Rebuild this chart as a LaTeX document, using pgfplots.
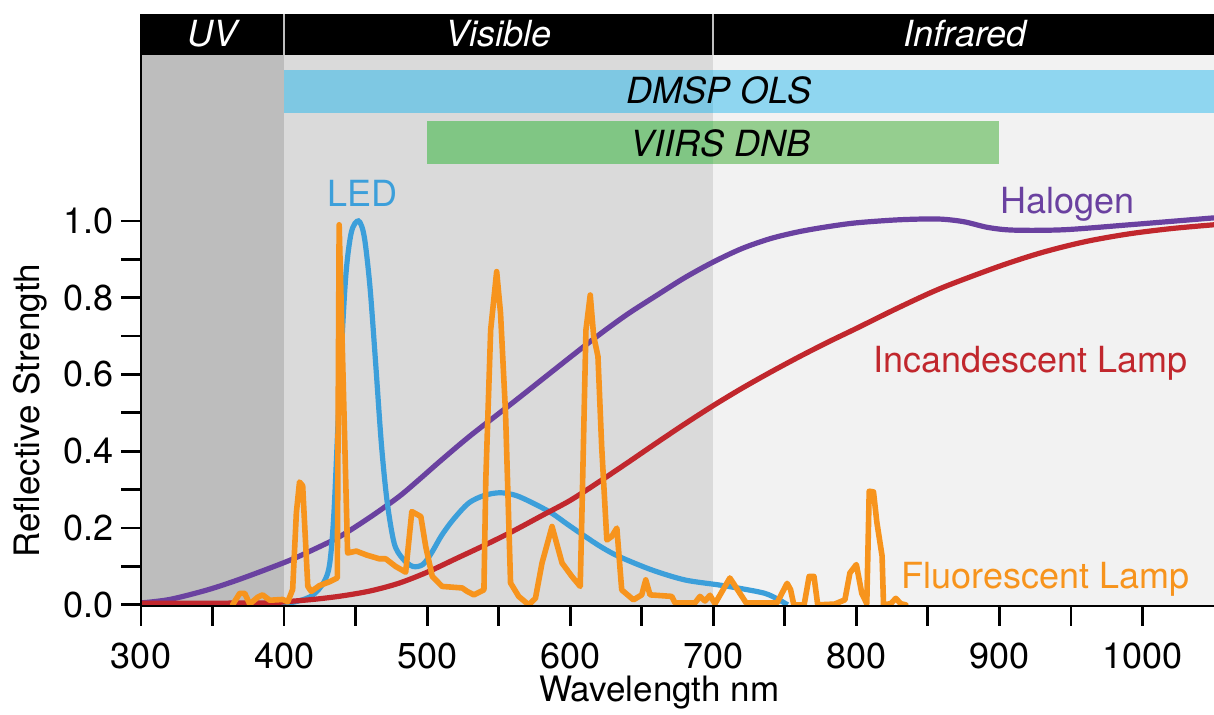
\documentclass[border=0pt]{standalone}
\usepackage{pgfplots}
\pgfplotsset{compat=1.18}
\usepackage{fontspec}
\setmainfont{TeX Gyre Heros}
\definecolor{uvbg}{HTML}{BDBDBD}
\definecolor{visbg}{HTML}{DADADA}
\definecolor{irbg}{HTML}{F2F2F2}
\definecolor{dmspA}{HTML}{7EC8E3}
\definecolor{dmspB}{HTML}{8FD6F0}
\definecolor{viirsA}{HTML}{80C684}
\definecolor{viirsB}{HTML}{95CE8F}
\definecolor{halo}{HTML}{6A41A0}
\definecolor{incand}{HTML}{C1272D}
\definecolor{led}{HTML}{3C9FDA}
\definecolor{fluo}{HTML}{F7941D}
\newcommand{\fs}{\fontsize{18}{21}\selectfont}
\newcommand{\fl}{\fontsize{17.5}{21}\selectfont}
\begin{document}
\begin{tikzpicture}
\path[use as bounding box] (0,0) rectangle (607pt,357.5pt);
\begin{axis}[
  at={(70.5pt,54.5pt)}, anchor=south west,
  scale only axis, width=536.5pt, height=296pt,
  xmin=300, xmax=1050, ymin=-0.003, ymax=1.539,
  axis x line*=bottom, axis y line*=left,
  axis line style={line width=1.4pt, black, -},
  axis on top=true,
  tick align=outside,
  major tick length=10pt, minor tick length=10pt,
  tick style={line width=1.4pt, black},
  xtick={300,400,500,600,700,800,900,1000},
  minor xtick={350,450,550,650,750,850,950},
  ytick={0,0.2,0.4,0.6,0.8,1.0},
  minor ytick={0.1,0.3,0.5,0.7,0.9},
  /pgf/number format/assume math mode=true,
  /pgf/number format/1000 sep={},
  yticklabel style={/pgf/number format/.cd, fixed, fixed zerofill, precision=1},
  ticklabel style={font=\fs},
  xticklabel style={yshift=-5pt},
  xlabel={Wavelength nm}, ylabel={Reflective Strength},
  label style={font=\fl},
  xlabel style={at={(axis description cs:0.483,0)}, anchor=base, yshift=-48pt},
  ylabel style={at={(axis description cs:0,0.33)}, anchor=base, yshift=50.5pt},
  clip=true,
]
% backgrounds
\addplot[fill=uvbg, draw=none] coordinates {(300,-0.003) (400,-0.003) (400,1.432) (300,1.432)} -- cycle;
\addplot[fill=visbg, draw=none] coordinates {(400,-0.003) (700,-0.003) (700,1.432) (400,1.432)} -- cycle;
\addplot[fill=irbg, draw=none] coordinates {(700,-0.003) (1050,-0.003) (1050,1.432) (700,1.432)} -- cycle;
\addplot[fill=black, draw=none] coordinates {(300,1.432) (1050,1.432) (1050,1.539) (300,1.539)} -- cycle;
\addplot[gray!50, line width=0.8pt] coordinates {(400,1.432) (400,1.539)};
\addplot[gray!50, line width=0.8pt] coordinates {(700,1.432) (700,1.539)};
% sensor bands
\addplot[fill=dmspA, draw=none] coordinates {(400,1.281) (700,1.281) (700,1.393) (400,1.393)} -- cycle;
\addplot[fill=dmspB, draw=none] coordinates {(700,1.281) (1050,1.281) (1050,1.393) (700,1.393)} -- cycle;
\addplot[fill=viirsA, draw=none] coordinates {(500,1.148) (700,1.148) (700,1.259) (500,1.259)} -- cycle;
\addplot[fill=viirsB, draw=none] coordinates {(700,1.148) (900,1.148) (900,1.259) (700,1.259)} -- cycle;
\node[font=\fs\itshape, text=white, anchor=base] at (axis cs:350,1.454) {UV};
\node[font=\fs\itshape, text=white, anchor=base] at (axis cs:550,1.454) {Visible};
\node[font=\fs\itshape, text=white, anchor=base] at (axis cs:876,1.454) {Infrared};
\node[font=\fs\itshape, text=black, anchor=base] at (axis cs:704,1.3065) {DMSP OLS};
\node[font=\fs\itshape, text=black, anchor=base] at (axis cs:705,1.169) {VIIRS DNB};
% Halogen
\addplot[halo, line width=2.6pt, smooth] coordinates {
(300,0.005) (320,0.014) (346.5,0.039) (370,0.068) (402,0.113) (420,0.143)
(439,0.178) (460,0.228) (480,0.281) (494,0.325) (509,0.374) (530,0.44)
(560,0.527) (580,0.586) (600,0.645) (620,0.703) (640,0.757) (660,0.805)
(680,0.852) (700,0.893) (720,0.928) (740,0.954) (760,0.972) (780,0.985)
(800,0.995) (830,1.003) (857,1.005) (875,0.998) (892,0.983) (910,0.976)
(945,0.977) (991,0.99) (1050,1.008)};
% LED
\addplot[led, line width=2.6pt, smooth, tension=0.5] coordinates {
(385,0.0) (400,0.003) (410,0.01) (420,0.025) (428,0.06) (432,0.11)
(435,0.25) (439,0.58) (443,0.85) (447,0.97) (452,1.0) (456,0.96)
(460,0.83) (464,0.63) (468,0.42) (472,0.27) (477,0.16) (483,0.12)
(490,0.1) (497,0.105) (503,0.135) (510,0.18) (518,0.221) (529,0.265)
(540,0.285) (551,0.292) (562,0.285) (574,0.265) (587,0.239) (598,0.21)
(610.5,0.178) (622,0.15) (634,0.126) (657,0.091) (680,0.065) (703.5,0.052)
(720,0.042) (736,0.03) (745,0.015) (752,0.0)};
% Incandescent
\addplot[incand, line width=2.6pt, smooth] coordinates {
(300,0.004) (386,0.005) (400,0.008) (420,0.014) (440,0.023) (460,0.036)
(480,0.056) (500,0.085) (520,0.12) (540,0.155) (560,0.192) (580,0.232)
(600,0.272) (620,0.32) (640,0.37) (660,0.421) (680,0.471) (700,0.519)
(720,0.564) (740,0.606) (760,0.646) (780,0.684) (800,0.72) (830,0.775)
(860,0.826) (900,0.882) (930,0.918) (960,0.946) (990,0.966) (1020,0.98)
(1050,0.99)};
% Fluorescent
\addplot[fluo, line width=2.8pt, line join=round, line cap=round] coordinates {
(364,0.0) (369,0.03) (372.5,0.03) (376,0.002) (381.6,0.02) (385,0.026)
(390,0.012) (399,0.014) (402.6,0.008) (406,0.04) (408.6,0.24) (410.8,0.32)
(413,0.31) (416.6,0.048) (419,0.035) (424.7,0.05) (431.7,0.06) (437.2,0.07)
(438.5,0.99) (444.4,0.135) (450.5,0.14) (457.5,0.13) (466.5,0.12) (471,0.12)
(478,0.1) (485,0.085) (489.3,0.243) (495.6,0.23) (499,0.152) (503.6,0.074)
(510.5,0.048) (524.5,0.044) (528,0.035) (532.7,0.026) (539.7,0.039) (541,0.325)
(544.4,0.716) (548.6,0.868) (551.3,0.76) (554.8,0.5) (558.3,0.057) (564,0.022)
(571,0.0) (575.7,0.017) (580.3,0.109) (587.3,0.204) (594.3,0.109) (601.2,0.074)
(607,0.048) (608.2,0.24) (611,0.716) (614,0.807) (616.4,0.7) (619.4,0.647)
(622,0.412) (625.6,0.169) (629,0.178) (632.6,0.2) (636,0.039) (644.2,0.013)
(650,0.026) (652.8,0.065) (655.8,0.026) (671,0.022) (673.3,0.005) (687.2,0.005)
(690.7,0.022) (694.2,0.01) (697.7,0.025) (701.2,0.003) (711.6,0.07) (723,0.005)
(744.5,0.005) (751.6,0.056) (754,0.04) (756.3,0.0) (763.5,0.0) (767,0.074)
(770.4,0.074) (773,0.0) (784.8,0.002) (792,0.013) (795.5,0.083) (800,0.105)
(803.8,0.03) (807.3,0.003) (809,0.296) (812,0.294) (814.3,0.216) (818,0.127)
(819,0.0) (824,0.003) (827.6,0.017) (831,0.003) (834.6,0.0)};
% curve labels
\node[font=\fs, text=led, anchor=base] at (axis cs:454.9,1.037) {LED};
\node[font=\fs, text=halo, anchor=base] at (axis cs:947.4,1.02) {Halogen};
\node[font=\fs, text=incand, anchor=base] at (axis cs:921.6,0.605) {Incandescent Lamp};
\node[font=\fs, text=fluo, anchor=base] at (axis cs:932.5,0.043) {Fluorescent Lamp};
\end{axis}
\end{tikzpicture}
\end{document}
